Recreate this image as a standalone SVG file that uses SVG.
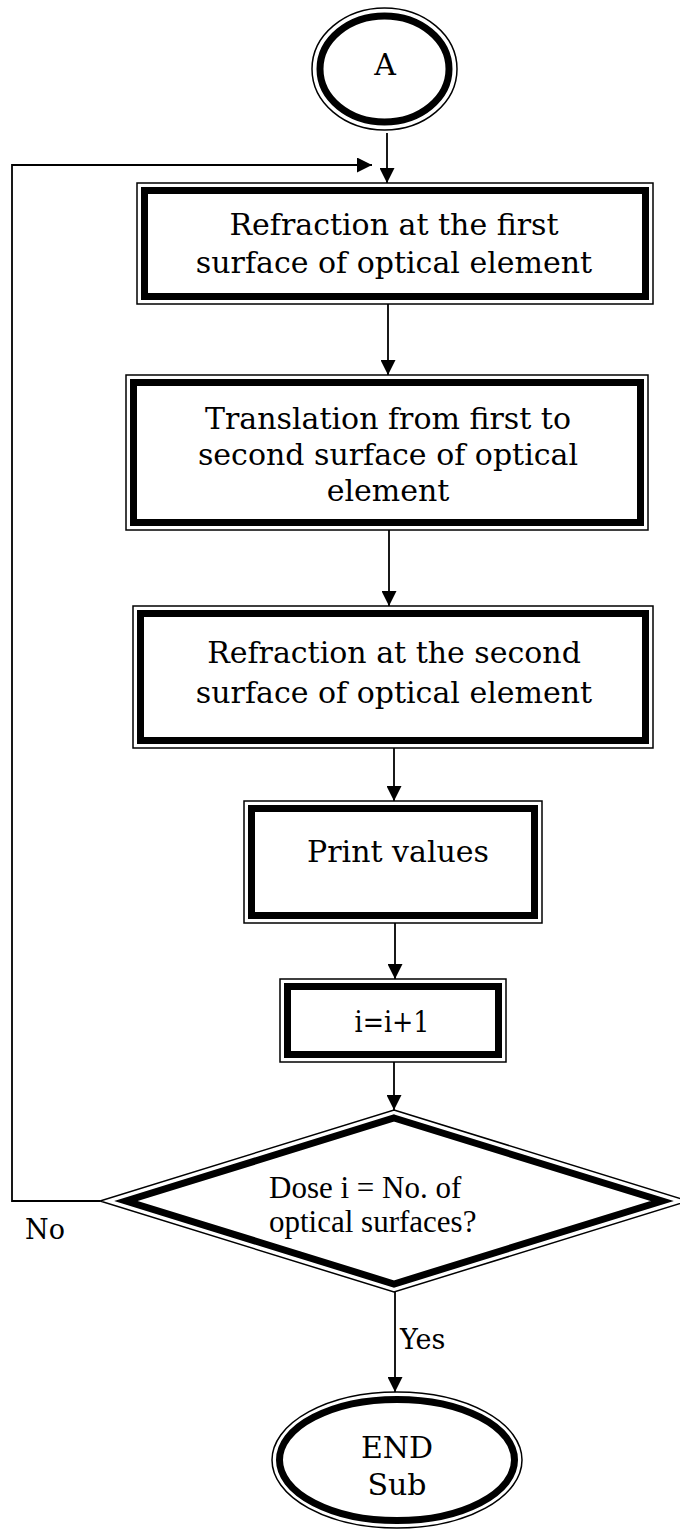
<svg xmlns="http://www.w3.org/2000/svg" width="680" height="1530" viewBox="0 0 680 1530">
<defs>
<marker id="ah" markerWidth="15" markerHeight="15" refX="15" refY="7.5" orient="auto" markerUnits="userSpaceOnUse">
<path d="M0,0 L15,7.5 L0,15 Z" fill="#000"/>
</marker>
<style>
.thin{fill:none;stroke:#000;stroke-width:1.5}
.thick{fill:none;stroke:#000;stroke-width:7}
.t{font-family:"DejaVu Serif",serif;font-size:30px;fill:#000;text-anchor:middle}
.lb{font-family:"DejaVu Serif",serif;font-size:27px;fill:#000}
.tr{font-family:"Liberation Serif",serif;font-size:31px;fill:#000}
.c{fill:none;stroke:#000;stroke-width:1.8}
</style>
</defs>
<rect width="680" height="1530" fill="#fff"/>
<g id="connectors">
<line class="c" x1="387" y1="133" x2="387" y2="183" marker-end="url(#ah)"/>
<polyline class="c" points="100,1201 12,1201 12,165 372,165" marker-end="url(#ah)"/>
<line class="c" x1="388" y1="304" x2="388" y2="375" marker-end="url(#ah)"/>
<line class="c" x1="389" y1="530" x2="389" y2="606" marker-end="url(#ah)"/>
<line class="c" x1="394" y1="748" x2="394" y2="801" marker-end="url(#ah)"/>
<line class="c" x1="395" y1="923" x2="395" y2="979" marker-end="url(#ah)"/>
<line class="c" x1="394" y1="1062" x2="394" y2="1110" marker-end="url(#ah)"/>
<line class="c" x1="395" y1="1292" x2="395" y2="1392" marker-end="url(#ah)"/>
<text class="lb" x="25" y="1239">No</text>
<text class="lb" x="400" y="1349">Yes</text>
</g>
<g id="startA">
<ellipse class="thin" cx="384.5" cy="69" rx="72.5" ry="61"/>
<ellipse class="thick" cx="384.5" cy="69" rx="64.5" ry="53"/>
<text class="t" x="385" y="75">A</text>
</g>
<g id="box1">
<rect class="thin" x="137" y="183" width="516" height="121"/>
<rect class="thick" x="144.5" y="190.5" width="501" height="106"/>
<text class="t" x="394" y="235">Refraction at the first</text>
<text class="t" x="394" y="273">surface of optical element</text>
</g>
<g id="box2">
<rect class="thin" x="126" y="375" width="522" height="155"/>
<rect class="thick" x="133.5" y="382.5" width="507" height="140"/>
<text class="t" x="388" y="429">Translation from first to</text>
<text class="t" x="388" y="465">second surface of optical</text>
<text class="t" x="388" y="501">element</text>
</g>
<g id="box3">
<rect class="thin" x="133" y="606" width="520" height="142"/>
<rect class="thick" x="140.5" y="613.5" width="505" height="127"/>
<text class="t" x="394" y="663">Refraction at the second</text>
<text class="t" x="394" y="703">surface of optical element</text>
</g>
<g id="box4">
<rect class="thin" x="244" y="801" width="298" height="122"/>
<rect class="thick" x="251.5" y="808.5" width="283" height="107"/>
<text class="t" x="398" y="862">Print values</text>
</g>
<g id="box5">
<rect class="thin" x="280" y="979" width="226" height="83"/>
<rect class="thick" x="287.5" y="986.5" width="211" height="68"/>
<text class="t" x="392" y="1032" textLength="75" lengthAdjust="spacingAndGlyphs">i=i+1</text>
</g>
<g id="decision">
<polygon class="thin" points="394,1110 688,1201 394,1292 100,1201"/>
<polygon class="thick" points="394,1118 662,1201 394,1284 126,1201"/>
<text class="tr" x="269" y="1198">Dose i = No. of</text>
<text class="tr" x="269" y="1232">optical surfaces?</text>
</g>
<g id="endSub">
<ellipse class="thin" cx="397" cy="1460" rx="125" ry="68"/>
<ellipse class="thick" cx="397" cy="1460" rx="117.5" ry="60.5"/>
<text class="t" x="397" y="1458">END</text>
<text class="t" x="397" y="1495">Sub</text>
</g>
</svg>
